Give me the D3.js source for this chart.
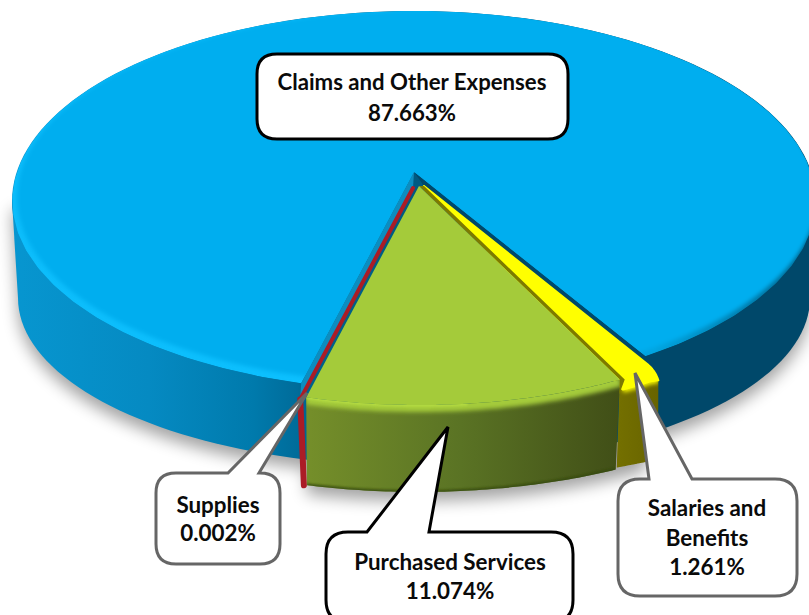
<!DOCTYPE html>
<html><head><meta charset="utf-8">
<script src="https://d3js.org/d3.v7.min.js"></script>
<style>html,body{margin:0;background:#fff}svg{display:block}text{font-family:Lato,"Open Sans",sans-serif;font-weight:700;fill:#0a0a0a;text-anchor:middle}</style>
</head><body><div id="c"></div>
<script>
// Data, clockwise from the right edge of the front wedge
const categories = ["Salaries and Benefits","Purchased Services","Supplies","Claims and Other Expenses"];
const values = [1.261, 11.074, 0.002, 87.663];
const labelLines = [["Salaries and","Benefits","1.261%"],["Purchased Services","11.074%"],["Supplies","0.002%"],["Claims and Other Expenses","87.663%"]];

const W=809,H=615,rad=d=>d*Math.PI/180;
const svg=d3.select("#c").append("svg").attr("width",W).attr("height",H);
const defs=svg.append("defs");
const blur=(id,s)=>defs.append("filter").attr("id",id).attr("filterUnits","userSpaceOnUse")
  .attr("x",-50).attr("y",-50).attr("width",W+100).attr("height",H+100)
  .append("feGaussianBlur").attr("stdDeviation",s);
blur("b1",1);blur("b2",2);blur("b3",3);blur("sh",8);
const grad=(id,x1,x2,stops)=>{const g=defs.append("linearGradient").attr("id",id).attr("gradientUnits","userSpaceOnUse")
  .attr("x1",x1).attr("x2",x2).attr("y1",0).attr("y2",0);
  stops.forEach(([o,c])=>g.append("stop").attr("offset",o).attr("stop-color",c));};
grad("blueSide",12,816,[[0,"#0796d0"],[.17,"#058ac2"],[.3,"#007aac"],[.355,"#006c9a"],[.37,"#00628c"],[.78,"#00486a"],[1,"#00486a"]]);
grad("blueRim",12,816,[[0,"#0cbdfb"],[.45,"#0cc0ff"],[.6,"#00aeef"],[.8,"#00a4e0"],[1,"#005f85"]]);
grad("greenSide",305,617,[[0,"#758f2a"],[.5,"#5a7324"],[1,"#414f17"]]);
grad("yellowSide",617,656,[[0,"#747000"],[1,"#686400"]]);

// Perspective projection of the pie's disc
const px=414,py=172,R=397,S=185.6,k=-0.1526;
const rim=(a,o=[0,0])=>{const X=Math.sin(a),Y=-Math.cos(a),d=1+k*Y;return [px+R*X/d+o[0],py+S*Y/d+o[1]];};
const low=(a,o=[0,0])=>{const u=(rim(a)[0]-px)/402;return [px+396*u+o[0],298+168*Math.sqrt(Math.max(0,1-u*u))*(Math.cos(a)<0?1:-1)+o[1]];};
const arcPts=(a0,a1,f,o)=>d3.range(0,61).map(i=>f(a0+(a1-a0)*i/60,o));
const line=d3.line(),closed=p=>line(p)+"Z";
const ell=(cx,cy,rx,ry)=>d3.range(0,181).map(i=>[cx+rx*Math.cos(i*Math.PI/90),cy+ry*Math.sin(i*Math.PI/90)]);

const arcs=d3.pie().sort(null).startAngle(rad(149.6)).endAngle(rad(149.6)+2*Math.PI)(values);
const [yel,grn,red,blu]=arcs;
const oY=[10,14],oG=[5,14],oR=[-1,16];
const apex=[px,py],plus=(o)=>[px+o[0],py+o[1]];

// Cast shadow
const sh=svg.append("g").attr("filter","url(#sh)").attr("fill","#000").attr("opacity",.36).attr("transform","translate(0,9)");
const side=svg.append("g");
const hull=[[12,201],[816,201],[810,298],[18,298]];
[ell(414,298,396,168),hull].forEach(p=>sh.append("path").attr("d",closed(p)));
sh.append("path").attr("d",closed([...arcPts(yel.startAngle,red.endAngle,low,[4,26]),[300,300],[650,300]]));

// Blue body
[ell(414,201,402,190),ell(414,298,396,168),hull].forEach(p=>side.append("path").attr("d",closed(p)).attr("fill","url(#blueSide)"));

// Blue top face with bevel
defs.append("clipPath").attr("id","blueClip").append("path").attr("d",closed([apex,...arcPts(blu.startAngle,blu.endAngle,rim)]));
const topG=svg.append("g").attr("clip-path","url(#blueClip)");
topG.append("path").attr("d",closed(ell(414,201,402,190))).attr("fill","url(#blueRim)");
topG.append("path").attr("d",closed(ell(417,197,400,187))).attr("fill","#00aeef").attr("filter","url(#b2)");

// Inner walls of the blue wedge
svg.append("path").attr("d",closed([apex,rim(blu.startAngle),rim(blu.startAngle,oR),plus(oR)])).attr("fill","#0c8dc0");
svg.append("path").attr("d",closed([apex,rim(blu.endAngle),rim(blu.endAngle,oY),plus(oY)])).attr("fill","#00486a");

// Supplies
svg.append("path").attr("d",line([rim(red.startAngle,oR),low(red.startAngle,[1,26])])).attr("stroke","#ab1c26").attr("stroke-width",6).attr("stroke-linecap","round").attr("fill","none");
svg.append("path").attr("d",closed([plus(oR),...arcPts(red.startAngle,red.endAngle,rim,oR)])).attr("fill","#ab1c26").attr("stroke","#ab1c26").attr("stroke-width",4).attr("stroke-linejoin","round");

// Salaries and Benefits, with a rounded outer corner
const yRim=arcPts(yel.startAngle,yel.endAngle,rim,oY);
const C=yRim[0],cA=[C[0]-9,C[1]-7],cE=[C[0]+3,C[1]+10];
const corner=d3.range(0,9).map(i=>{const t=i/8,s=1-t;return [s*s*cA[0]+2*s*t*C[0]+t*t*cE[0],s*s*cA[1]+2*s*t*C[1]+t*t*cE[1]];});
const yFront=arcPts(yel.startAngle,yel.endAngle,rim,[oY[0]-2,oY[1]+10]).slice(6);
const yPoly=[...corner,...yFront];
const yLow=d3.range(0,61).map(i=>low(yel.startAngle+(yel.endAngle-yel.startAngle)*i/60,[16-11*i/60,24]));
const ySide=closed([cE,...yFront,rim(yel.endAngle,oG),...yLow.slice().reverse()]);
svg.append("path").attr("d",ySide).attr("fill","url(#yellowSide)");
defs.append("clipPath").attr("id","yClip").append("path").attr("d",ySide);
svg.append("g").attr("clip-path","url(#yClip)").append("path").attr("d",line([cE,...yFront])).attr("stroke","#ffff00").attr("stroke-width",6).attr("fill","none").attr("filter","url(#b2)");
svg.append("path").attr("d",closed([plus(oY),...yPoly])).attr("fill","#ffff00").attr("stroke","#ffff00").attr("stroke-width",2).attr("stroke-linejoin","round");
svg.append("path").attr("d",closed([plus(oY),rim(yel.endAngle,oY),[rim(yel.endAngle,oY)[0]-6,rim(yel.endAngle,oY)[1]+16],rim(grn.startAngle,oG),plus(oG)])).attr("fill","#7d7a00");

// Purchased Services
const gRim=arcPts(grn.startAngle,grn.endAngle,rim,oG);
const gLow=arcPts(grn.startAngle,grn.endAngle,low,[4,26]);
defs.append("clipPath").attr("id","gClip").append("path").attr("d",closed([...gRim,...gLow.slice().reverse()]));
svg.append("path").attr("d",closed([...gRim,...gLow.slice().reverse()])).attr("fill","url(#greenSide)");
const gs=svg.append("g").attr("clip-path","url(#gClip)");
gs.append("path").attr("d",line(gLow)).attr("fill","none").attr("stroke","#36480f").attr("stroke-width",4).attr("filter","url(#b1)").attr("opacity",.8);
gs.append("path").attr("d",line(gRim)).attr("fill","none").attr("stroke","#a4cb3a").attr("stroke-width",14).attr("filter","url(#b2)");
svg.append("path").attr("d",closed([plus(oG),...gRim])).attr("fill","#a4cb3a");
gs.append("path").attr("d",line(gRim.slice(30))).attr("fill","none").attr("stroke","#b8df45").attr("stroke-width",3).attr("filter","url(#b1)").attr("opacity",.9);

// Callouts
function bubble(x0,y0,x1,y1,r,tip,b0,b1){
  const p=d3.path();
  p.moveTo(x0+r,y0);p.lineTo(b0,y0);p.lineTo(tip[0],tip[1]);p.lineTo(b1,y0);p.lineTo(x1-r,y0);
  p.quadraticCurveTo(x1,y0,x1,y0+r);p.lineTo(x1,y1-r);p.quadraticCurveTo(x1,y1,x1-r,y1);
  p.lineTo(x0+r,y1);p.quadraticCurveTo(x0,y1,x0,y1-r);p.lineTo(x0,y0+r);p.quadraticCurveTo(x0,y0,x0+r,y0);p.closePath();
  return p.toString();
}
const boxes=[
 {i:0,b:[618,479,797,596,22],tip:[635,373],base:[649,692],st:"#666",x:707,ys:[516,546,575],fs:22.4},
 {i:1,b:[326,532,573,622,22],tip:[448,427],base:[367,429],st:"#000",x:450,ys:[570,599],fs:22.4},
 {i:2,b:[156,473,280,564,20],tip:[307,393],base:[228,259],st:"#666",x:218,ys:[513,541],fs:22.4},
 {i:3,b:[257,54,568,139,20],tip:null,base:null,st:"#000",x:412,ys:[90,121],fs:22.2}
];
boxes.forEach(d=>{
  const [x0,y0,x1,y1,r]=d.b;
  const path=d.tip?bubble(x0,y0,x1,y1,r,d.tip,d.base[0],d.base[1]):bubble(x0,y0,x1,y1,r,[x0+r+1,y0],x0+r,x0+r+2);
  svg.append("path").attr("d",path).attr("fill","#fff").attr("stroke",d.st).attr("stroke-width",3).attr("stroke-linejoin","miter");
  labelLines[d.i].forEach((t,j)=>svg.append("text").attr("x",d.x).attr("y",d.ys[j]).attr("font-size",d.fs).text(t));
});
</script></body></html>
